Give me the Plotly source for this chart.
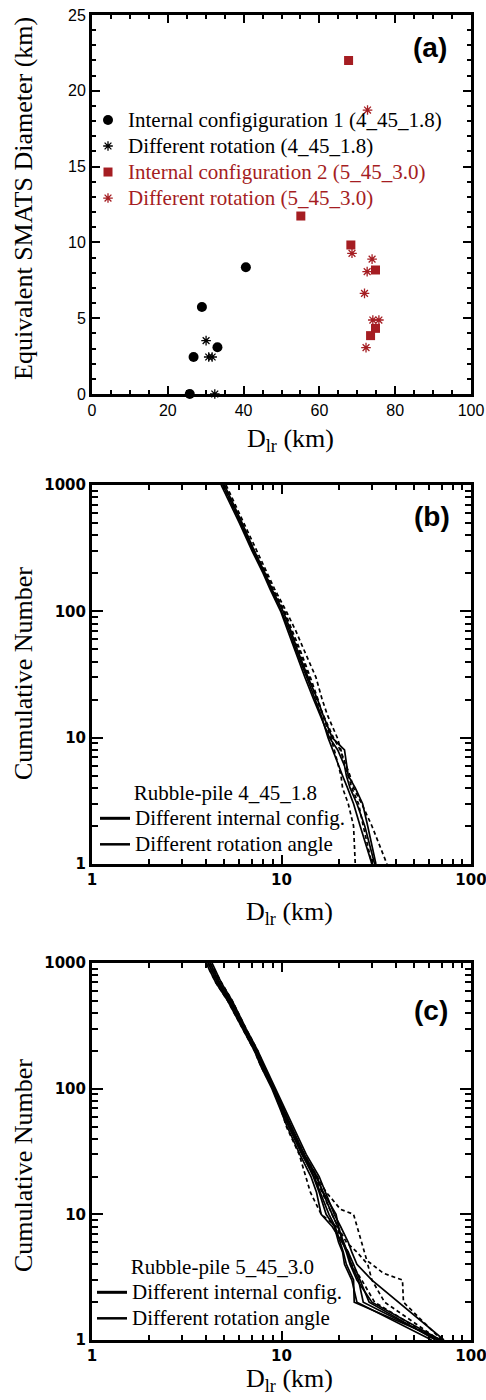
import plotly.graph_objects as go

# ---------------- Panel (a) data ----------------
cfg1_x = [25.8, 26.8, 29.0, 33.1, 40.6]
cfg1_y = [0.0, 2.44, 5.74, 3.08, 8.36]
rot1_x = [30.1, 30.8, 31.7, 32.4]
rot1_y = [3.52, 2.44, 2.44, 0.0]
cfg2_x = [67.7, 55.1, 68.3, 74.8, 74.8, 73.5]
cfg2_y = [22.0, 11.74, 9.83, 8.18, 4.33, 3.85]
rot2_x = [72.7, 68.6, 73.9, 72.6, 71.9, 74.1, 75.7, 72.3]
rot2_y = [18.73, 9.28, 8.9, 8.07, 6.64, 4.88, 4.88, 3.06]

# ---------------- Panels (b), (c): cumulative number levels ----------------
N_LEVELS = [1000, 700, 500, 300, 200, 150, 100, 70, 50, 30, 20, 15, 10, 8, 6, 5, 4, 3, 2, 1]

# (b) rubble-pile 4_45_1.8 : D_lr (km) at each N level
b_cfg_1 = [4.9, 5.5, 6.1, 7.1, 8.1, 8.8, 10.0, 11.0, 11.9, 13.6, 15.1, 16.2, 17.6, 18.6, 19.9, 21.0, 22.3, 24.0, 26.0, 30.0]
b_cfg_2 = [4.8, 5.4, 6.0, 7.0, 8.0, 8.7, 9.9, 10.8, 11.7, 13.3, 14.8, 16.0, 17.9, 19.8, 21.5, 22.0, 23.0, 25.0, 27.5, 31.0]
b_cfg_3 = [5.0, 5.6, 6.2, 7.2, 8.2, 8.9, 10.2, 11.2, 12.1, 13.8, 15.5, 16.6, 18.5, 21.5, 22.0, 22.5, 24.5, 26.8, 28.5, 31.5]
b_rot_1 = [5.0, 5.6, 6.2, 7.2, 8.3, 9.0, 10.4, 11.4, 12.5, 14.2, 15.6, 16.5, 18.2, 19.0, 20.0, 20.6, 21.0, 22.5, 24.0, 24.5]
b_rot_2 = [4.9, 5.5, 6.1, 7.1, 8.2, 9.0, 10.3, 11.2, 12.3, 14.0, 15.3, 16.6, 18.8, 20.4, 22.0, 23.0, 24.0, 26.5, 30.0, 36.0]
b_rot_3 = [5.1, 5.7, 6.3, 7.4, 8.4, 9.2, 10.6, 11.9, 13.1, 15.2, 16.4, 17.5, 19.7, 20.6, 21.5, 22.5, 23.5, 25.5, 27.0, 30.0]

# (c) rubble-pile 5_45_3.0
c_cfg_1 = [4.1, 4.6, 5.3, 6.3, 7.3, 7.9, 9.0, 9.9, 10.9, 12.8, 14.9, 16.0, 17.8, 19.2, 20.5, 21.2, 22.0, 24.0, 24.2, 70.0]
c_cfg_2 = [4.2, 4.7, 5.4, 6.4, 7.4, 8.1, 9.2, 10.2, 11.3, 13.2, 15.4, 16.5, 18.5, 19.8, 21.3, 22.3, 23.3, 25.5, 27.0, 67.0]
c_cfg_3 = [4.0, 4.5, 5.2, 6.2, 7.2, 7.8, 8.9, 9.8, 10.7, 12.5, 14.3, 15.3, 16.2, 18.5, 20.8, 22.5, 24.0, 26.0, 29.0, 65.0]
c_cfg_4 = [4.3, 4.8, 5.5, 6.5, 7.5, 8.2, 9.3, 10.4, 11.5, 13.5, 15.8, 17.0, 19.0, 20.5, 22.5, 23.5, 25.0, 30.0, 41.5, 72.0]
c_cfg_5 = [4.1, 4.6, 5.3, 6.3, 7.3, 8.0, 9.1, 10.1, 11.1, 13.0, 15.2, 16.6, 19.4, 20.0, 21.0, 22.0, 23.0, 25.0, 30.0, 69.0]
c_cfg_6 = [4.2, 4.7, 5.4, 6.4, 7.4, 8.0, 9.1, 10.0, 11.0, 12.9, 14.7, 15.8, 17.2, 19.0, 20.0, 21.0, 21.5, 23.5, 25.0, 62.0]
c_rot_1_n = [1000, 700, 500, 300, 200, 150, 100, 70, 50, 30, 20, 15, 12, 11, 10, 4.3, 3.4, 3, 2, 1]
c_rot_1 = [4.2, 4.8, 5.5, 6.5, 7.5, 8.1, 9.2, 10.2, 11.2, 13.2, 15.4, 17.2, 19.5, 20.4, 24.0, 28.2, 34.5, 43.5, 44.0, 70.0]
c_rot_2 = [4.1, 4.6, 5.3, 6.3, 7.3, 8.0, 9.1, 10.1, 11.1, 13.0, 15.0, 16.3, 18.5, 19.8, 22.0, 25.0, 28.5, 30.0, 35.0, 68.0]
c_rot_3 = [4.0, 4.5, 5.2, 6.2, 7.2, 7.8, 9.0, 9.9, 10.6, 12.4, 13.4, 14.2, 16.2, 19.5, 21.0, 22.5, 23.5, 26.5, 31.0, 66.0]

RED = "#a51d22"
SERIF = "Liberation Serif, Times New Roman, serif"
W, H = 486, 1400

def big(text, color=None):
    style = "font-family:Liberation Serif,serif;font-size:21px"
    if color:
        style += f";color:{color}"
    return f'<span style="{style}">{text}</span>'

fig = go.Figure()

# ---------------- Panel (a) ----------------
fig.add_trace(go.Scatter(x=cfg1_x, y=cfg1_y, mode="markers", xaxis="x", yaxis="y", legend="legend",
                         name=big("Internal configiguration 1 (4_45_1.8)"), cliponaxis=False,
                         marker=dict(symbol="circle", size=10, color="black")))
fig.add_trace(go.Scatter(x=rot1_x, y=rot1_y, mode="markers", xaxis="x", yaxis="y", legend="legend",
                         name=big("Different rotation (4_45_1.8)"), cliponaxis=False,
                         marker=dict(symbol="asterisk-open", size=8, color="black",
                                     line=dict(width=1.3, color="black"))))
fig.add_trace(go.Scatter(x=cfg2_x, y=cfg2_y, mode="markers", xaxis="x", yaxis="y", legend="legend",
                         name=big("Internal configuration 2 (5_45_3.0)", RED), cliponaxis=False,
                         marker=dict(symbol="square", size=9, color=RED)))
fig.add_trace(go.Scatter(x=rot2_x, y=rot2_y, mode="markers", xaxis="x", yaxis="y", legend="legend",
                         name=big("Different rotation (5_45_3.0)", RED), cliponaxis=False,
                         marker=dict(symbol="asterisk-open", size=8, color=RED,
                                     line=dict(width=1.3, color=RED))))

# ---------------- Panels (b), (c) ----------------
def add_curves(curves, xa, ya, dashed):
    for n, d in curves:
        fig.add_trace(go.Scatter(x=d, y=n, mode="lines", xaxis=xa, yaxis=ya, showlegend=False,
                                 line=dict(color="black", width=1.7,
                                           dash="4px,3px" if dashed else "solid")))

add_curves([(N_LEVELS, b_cfg_1), (N_LEVELS, b_cfg_2), (N_LEVELS, b_cfg_3)], "x2", "y2", False)
add_curves([(N_LEVELS, b_rot_1), (N_LEVELS, b_rot_2), (N_LEVELS, b_rot_3)], "x2", "y2", True)
add_curves([(N_LEVELS, c_cfg_1), (N_LEVELS, c_cfg_2), (N_LEVELS, c_cfg_3),
            (N_LEVELS, c_cfg_4), (N_LEVELS, c_cfg_5), (N_LEVELS, c_cfg_6)], "x3", "y3", False)
add_curves([(c_rot_1_n, c_rot_1), (N_LEVELS, c_rot_2), (N_LEVELS, c_rot_3)], "x3", "y3", True)

# legend keys for (b) and (c)
for xa, ya, lg in [("x2", "y2", "legend2"), ("x3", "y3", "legend3")]:
    fig.add_trace(go.Scatter(x=[None], y=[None], mode="lines", xaxis=xa, yaxis=ya, legend=lg,
                             name=big("Different internal config."), line=dict(color="black", width=3)))
    fig.add_trace(go.Scatter(x=[None], y=[None], mode="lines", xaxis=xa, yaxis=ya, legend=lg,
                             name=big("Different rotation angle"), line=dict(color="black", width=2.5)))

# ---------------- Axes ----------------
xdom = [92 / W, 471 / W]
def ydom(top, bot):
    return [1 - bot / H, 1 - top / H]

common = dict(showline=True, linewidth=3, linecolor="black", mirror="ticks", ticks="inside",
              showgrid=False, zeroline=False, tickcolor="black", automargin=False,
              ticklabeloverflow="allow")

lin_font = dict(family="Liberation Sans", size=16, color="black")
log_font = dict(family="DejaVu Sans", size=15, color="black", weight="bold")

def minor(dt, ln):
    return dict(dtick=dt, ticklen=ln, tickwidth=1.5, ticks="inside", tickcolor="black", showgrid=False)

fig.update_layout(
    template="none",
    xaxis=dict(domain=xdom, anchor="y", range=[0, 100], dtick=20, tick0=0, ticklen=8, tickwidth=2,
               tickfont=lin_font, minor=minor(5, 4), **common),
    yaxis=dict(domain=ydom(15, 394), anchor="x", range=[0, 25], dtick=5, tick0=0, ticklen=8, tickwidth=2,
               tickfont=lin_font, minor=minor(1, 4), **common),
    xaxis2=dict(domain=xdom, anchor="y2", type="log", range=[0, 2], tickvals=[1, 10, 100],
                ticktext=["1", "10", "100"], ticklen=9, tickwidth=2, tickfont=log_font,
                minor=minor("D1", 5), **common),
    yaxis2=dict(domain=ydom(485, 864), anchor="x2", type="log", range=[0, 3], tickvals=[1, 10, 100, 1000],
                ticktext=["1", "10", "100", "1000"], ticklen=11, tickwidth=2, tickfont=log_font,
                minor=minor("D1", 6), **common),
    xaxis3=dict(domain=xdom, anchor="y3", type="log", range=[0, 2], tickvals=[1, 10, 100],
                ticktext=["1", "10", "100"], ticklen=9, tickwidth=2, tickfont=log_font,
                minor=minor("D1", 5), **common),
    yaxis3=dict(domain=ydom(963, 1340), anchor="x3", type="log", range=[0, 3], tickvals=[1, 10, 100, 1000],
                ticktext=["1", "10", "100", "1000"], ticklen=11, tickwidth=2, tickfont=log_font,
                minor=minor("D1", 6), **common),
)

leg_font = dict(family=SERIF, size=17.7, color="black")
ttl_font = dict(family=SERIF, size=21, color="black")
nb = "\u00a0" * 7
fig.update_layout(
    legend=dict(x=88 / W, y=1 - 102 / H, xanchor="left", yanchor="top", bgcolor="rgba(0,0,0,0)",
                font=leg_font, tracegroupgap=0, itemwidth=30, borderwidth=0),
    legend2=dict(x=95 / W, y=1 - 773 / H, xanchor="left", yanchor="top", bgcolor="rgba(0,0,0,0)",
                 font=leg_font, tracegroupgap=0, itemwidth=30, borderwidth=0,
                 title=dict(text=nb + "Rubble-pile 4_45_1.8", font=ttl_font)),
    legend3=dict(x=92 / W, y=1 - 1247 / H, xanchor="left", yanchor="top", bgcolor="rgba(0,0,0,0)",
                 font=leg_font, tracegroupgap=0, itemwidth=30, borderwidth=0,
                 title=dict(text=nb + "Rubble-pile 5_45_3.0", font=ttl_font)),
)

# ---------------- Titles and panel labels ----------------
title_font = dict(family=SERIF, size=26, color="black")
label_font = dict(family="Liberation Sans", size=28, color="black", weight="bold")
ann = []
def txt(x, y, text, font, angle=0, yanchor="middle"):
    ann.append(dict(x=x / W, y=1 - y / H, xref="paper", yref="paper", text=text, showarrow=False,
                    font=font, textangle=angle, xanchor="center", yanchor=yanchor))

txt(24, 199, "Equivalent SMATS Diameter (km)", title_font, -90)
txt(290, 440, "D<sub>lr</sub> (km)", title_font)
txt(23, 674, "Cumulative Number", title_font, -90)
txt(289, 913, "D<sub>lr</sub> (km)", title_font)
txt(23, 1166, "Cumulative Number", title_font, -90)
txt(289, 1362, "D<sub>lr</sub> (km)", title_font, yanchor="top")
txt(430, 47, "(a)", label_font)
txt(432, 517, "(b)", label_font)
txt(431, 1010, "(c)", label_font)

fig.update_layout(annotations=ann, width=W, height=H, margin=dict(l=0, r=0, t=0, b=0, pad=0),
                  paper_bgcolor="white", plot_bgcolor="white", showlegend=True,
                  font=dict(family=SERIF, color="black"))

fig.write_html("out.html")
